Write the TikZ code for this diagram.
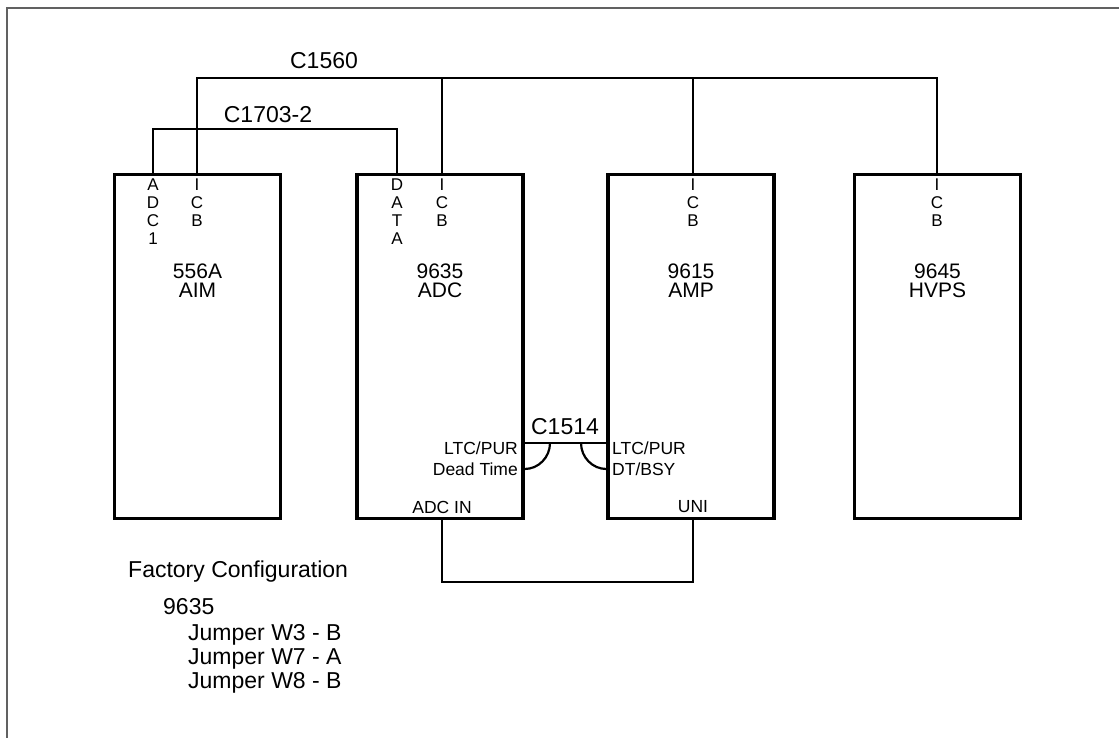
\documentclass[tikz,border=0pt]{standalone}
\usepackage{fontspec}
\setmainfont{Liberation Sans}
\begin{document}
\begin{tikzpicture}[x=1pt,y=-1pt,
  box/.style={draw, line width=3.4pt, minimum width=166pt, minimum height=344pt, inner sep=0pt},
  wire/.style={line width=2.2pt, line join=miter},
  frameline/.style={draw=black!62, line width=1.2pt},
  cable/.style={font=\fontsize{23}{26}\selectfont, inner sep=0pt},
  title/.style={font=\fontsize{21}{19}\selectfont, inner sep=0pt, align=center},
  pin/.style={font=\fontsize{17.5}{20}\selectfont, inner sep=0pt},
  stack/.style={font=\fontsize{17}{18}\selectfont, inner sep=0pt, align=center, anchor=north},
  note/.style={font=\fontsize{23}{24}\selectfont, inner sep=0pt, anchor=west}
]
\useasboundingbox (0,0) rectangle (1119,738);
\draw[frameline] (7,738) -- (7,8) -- (1119,8);

% modules
\node[box] (aim)  at (197.5,346.5) {};
\node[box] (adc)  at (440,346.5) {};
\node[box] (amp)  at (691,346.5) {};
\node[box] (hvps) at (937.5,346.5) {};

\node[title] (aimt)  at (197.5,281) {556A\\AIM};
\node[title] (adct)  at (440,281) {9635\\ADC};
\node[title] (ampt)  at (691,281) {9615\\AMP};
\node[title] (hvpst) at (937.5,281) {9645\\HVPS};

% pin positions on top edges
\coordinate (aimadc) at (aim.north -| 153,0);
\coordinate (aimicb) at (aim.north -| 197,0);
\coordinate (adcdata) at (adc.north -| 397,0);
\coordinate (adcicb) at (adc.north -| 442,0);
\coordinate (ampicb) at (amp.north -| 693,0);
\coordinate (hvpsicb) at (hvps.north -| 937,0);

\node[stack] (l1) at (153,179) {A\\D\\C\\1};
\node[stack] (l2) at (197,179) {I\\C\\B};
\node[stack] (l3) at (397,179) {D\\A\\T\\A};
\node[stack] (l4) at (442,179) {I\\C\\B};
\node[stack] (l5) at (693,179) {I\\C\\B};
\node[stack] (l6) at (937,179) {I\\C\\B};

% C1560 bus
\draw[wire] (aimicb) -- (aimicb |- 0,78) -- (hvpsicb |- 0,78) -- (hvpsicb);
\draw[wire] (adcicb) -- (adcicb |- 0,78);
\draw[wire] (ampicb) -- (ampicb |- 0,78);
\node[cable] (c1560) at (324,61) {C1560};

% C1703-2
\draw[wire] (aimadc) -- (aimadc |- 0,129) -- (adcdata |- 0,129) -- (adcdata);
\node[cable] (c1703) at (268,115) {C1703-2};

% C1514
\coordinate (adcltc) at (adc.east |- 0,443);
\coordinate (ampltc) at (amp.west |- 0,443);
\coordinate (adcdt) at (adc.east |- 0,469);
\coordinate (ampdt) at (amp.west |- 0,469);
\draw[wire] (adcltc) -- (ampltc);
\draw[wire] (adcdt) .. controls (538.4,469) and (550,457.4) .. (550,443);
\draw[wire] (ampdt) .. controls (592.6,469) and (581,457.4) .. (581,443);
\node[cable] (c1514) at (565,427) {C1514};

\node[pin, anchor=east] (p1) at (518,448) {LTC/PUR};
\node[pin, anchor=east] (p2) at (518,469) {Dead Time};
\node[pin, anchor=west] (p3) at (612,448) {LTC/PUR};
\node[pin, anchor=west] (p4) at (612,469) {DT/BSY};
\node[pin] (p5) at (442,507) {ADC IN};
\node[pin] (p6) at (693,507) {UNI};

% signal cable
\coordinate (adcin) at (adc.south -| 442,0);
\coordinate (uni) at (amp.south -| 693,0);
\draw[wire] (adcin) -- (adcin |- 0,582) -- (uni |- 0,582) -- (uni);

% notes
\node[note] (n1) at (128,572) {Factory Configuration};
\node[note] (n2) at (163,607) {9635};
\node[note] (n3) at (188,635) {Jumper W3 - B};
\node[note] (n4) at (188,659) {Jumper W7 - A};
\node[note] (n5) at (188,683) {Jumper W8 - B};
\end{tikzpicture}
\end{document}
